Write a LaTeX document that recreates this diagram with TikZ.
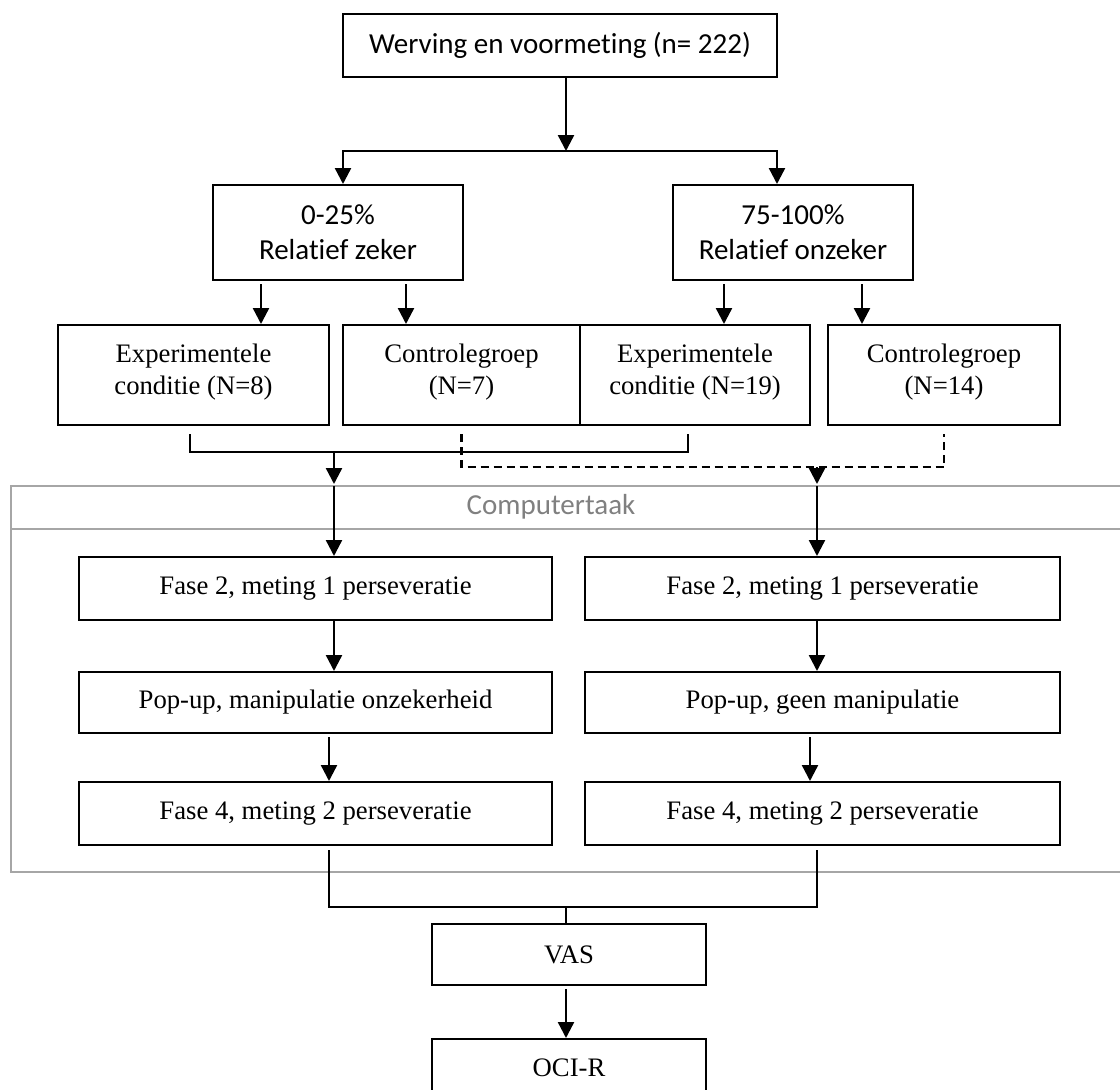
\documentclass[tikz,border=0pt]{standalone}
\usepackage{fontspec}
\setmainfont{Liberation Serif}
\newfontfamily\calfont{Carlito}[Ligatures=CommonOff]
\usetikzlibrary{arrows.meta}
\newcommand{\tm}{\fontsize{26.7}{32}\selectfont}
\newcommand{\cb}{\calfont\fontsize{29}{35}\selectfont}
\definecolor{framegray}{RGB}{166,166,166}
\definecolor{labelgray}{RGB}{128,128,128}

\begin{document}
\begin{tikzpicture}[x=1pt,y=-1pt,
   box/.style={draw,line width=2pt,inner sep=0pt,align=center,font=\tm},
   cbox/.style={box,font=\cb},
   arr/.style={line width=2.4pt,-{Triangle[width=16pt,length=16pt]}},
   gap/.style={shorten <=3pt},
   conn/.style={line width=2.2pt},
   taakline/.style={draw=framegray,line width=2pt}]
   \useasboundingbox (0,0) rectangle (1120,1090);

   % intake and groups
   \node[cbox,minimum width=434pt,minimum height=63pt] (top) at (560,45.5) {Werving en voormeting (n= 222)};
   \node[cbox,minimum width=250pt,minimum height=95pt] (grpL) at (338,232.5) {0-25\%\\Relatief zeker};
   \node[cbox,minimum width=240pt,minimum height=95pt] (grpR) at (793,232.5) {75-100\%\\Relatief onzeker};
   \node[box,minimum width=271pt,minimum height=100pt] (expA) at (193.5,375) {Experimentele\\conditie (N=8)\\[-20pt]};
   \node[box,minimum width=237pt,minimum height=100pt] (ctrB) at (461.5,375) {Controlegroep\\(N=7)\\[-20pt]};
   \node[box,minimum width=230pt,minimum height=100pt] (expC) at (695,375) {Experimentele\\conditie (N=19)\\[-20pt]};
   \node[box,minimum width=232pt,minimum height=100pt] (ctrD) at (944,375) {Controlegroep\\(N=14)\\[-20pt]};

   \coordinate (split) at (566,151);
   \draw[arr] (top.south -| split) -- (split);
   \draw[arr] (split) -| (grpL.north -| 343,0);
   \draw[arr] (split) -| (grpR.north -| 777,0);
   \draw[arr,gap] (grpL.south -| 261,0) -- (expA.north -| 261,0);
   \draw[arr,gap] (grpL.south -| 406,0) -- (ctrB.north -| 406,0);
   \draw[arr,gap] (grpR.south -| 724,0) -- (expC.north -| 724,0);
   \draw[arr,gap] (grpR.south -| 862,0) -- (ctrD.north -| 862,0);

   % computer task
   \draw[taakline] (1125,486) -- (11,486) -- (11,872) -- (1125,872);
   \draw[taakline] (11,529) -- (1125,529);
   \node[font=\cb,text=labelgray] (taak) at (551,507) {Computertaak};
   \coordinate (tl) at (11,486);

   \node[box,minimum width=473pt,minimum height=63pt] (f2L) at (315.5,588.5) {Fase 2, meting 1 perseveratie};
   \node[box,minimum width=475pt,minimum height=63pt] (f2R) at (822.5,588.5) {Fase 2, meting 1 perseveratie};
   \node[box,minimum width=473pt,minimum height=61pt] (popL) at (315.5,702.5) {Pop-up, manipulatie onzekerheid};
   \node[box,minimum width=475pt,minimum height=61pt] (popR) at (822.5,702.5) {Pop-up, geen manipulatie};
   \node[box,minimum width=473pt,minimum height=63pt] (f4L) at (315.5,813.5) {Fase 4, meting 2 perseveratie};
   \node[box,minimum width=475pt,minimum height=63pt] (f4R) at (822.5,813.5) {Fase 4, meting 2 perseveratie};

   \coordinate (joinA) at (334,452);
   \coordinate (joinB) at (817,467);
   \draw[conn] ([yshift=-8pt]expA.south -| 190,0) |- (joinA) -| ([yshift=-8pt]expC.south -| 688,0);
   \draw[conn,dash pattern=on 8pt off 5pt] ([yshift=-8pt]ctrB.south) |- (joinB) -| ([yshift=-8pt]ctrD.south);
   \draw[arr,shorten >=2pt] (joinA) -- (joinA |- tl);
   \draw[arr,shorten >=2pt] (joinB) -- (joinB |- tl);
   \draw[arr] (joinA |- tl) -- (f2L.north -| joinA);
   \draw[arr] (joinB |- tl) -- (f2R.north -| joinB);
   \draw[arr] (f2L.south -| 334,0) -- (popL.north -| 334,0);
   \draw[arr] (f2R.south -| 817,0) -- (popR.north -| 817,0);
   \draw[arr,gap] (popL.south -| 329,0) -- (f4L.north -| 329,0);
   \draw[arr,gap] (popR.south -| 810,0) -- (f4R.north -| 810,0);

   % afterwards
   \node[box,minimum width=274pt,minimum height=61pt] (vas) at (569,954.5) {VAS};
   \node[box,minimum width=274pt,minimum height=58pt] (oci) at (569,1068) {OCI-R};
   \coordinate (joinV) at (566,907);
   \draw[conn] ([yshift=-4pt]f4L.south -| 329,0) |- (joinV) -| ([yshift=-4pt]f4R.south -| 817,0);
   \draw[conn] (joinV) -- (vas.north -| joinV);
   \draw[arr,gap] (vas.south -| joinV) -- (oci.north -| joinV);
\end{tikzpicture}
\end{document}
